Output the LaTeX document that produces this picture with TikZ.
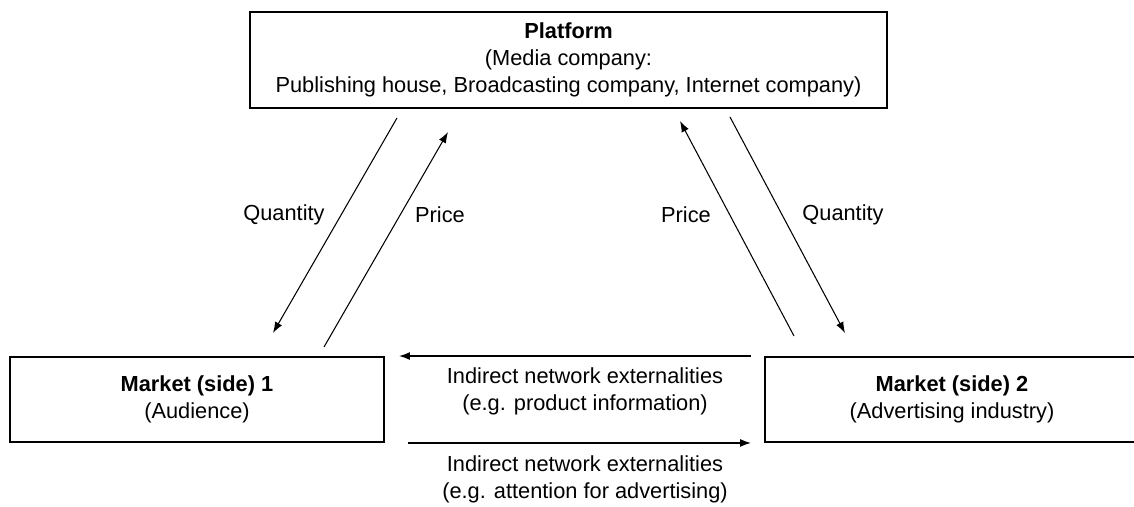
\documentclass[tikz,border=0pt]{standalone}
\usepackage{fontspec}
\setmainfont{Liberation Sans}
\usetikzlibrary{arrows.meta}

\tikzset{
  caja/.style={draw, line width=1.1pt, align=center, inner sep=0pt},
  flecha/.style={-{Latex[length=2.2mm,width=1.6mm]}, line width=0.6pt},
  etiq/.style={align=center}
}

\begin{document}
\begin{tikzpicture}[font=\fontsize{12.4}{15.4}\selectfont]
    \useasboundingbox (0,0) rectangle (22.68,-10.14);
    \clip (0,0) rectangle (22.68,-10.14);

    % Cajas: plataforma y los dos mercados
    \node[caja, minimum width=12.74cm, minimum height=1.92cm] (plat) at (11.37,-1.2)
      {\textbf{Platform}\\(Media company:\\Publishing house, Broadcasting company, Internet company)};
    \node[caja, minimum width=7.48cm, minimum height=1.7cm] (mer1) at (3.94,-7.99)
      {\textbf{Market (side) 1}\\(Audience)};
    \node[caja, minimum width=7.48cm, minimum height=1.7cm] (mer2) at (19.04,-7.99)
      {\textbf{Market (side) 2}\\(Advertising industry)};

    % Puntos de las flechas inclinadas
    \coordinate (q1a) at (7.94,-2.36);
    \coordinate (q1b) at (5.46,-6.66);
    \coordinate (p1a) at (6.48,-6.94);
    \coordinate (p1b) at (8.96,-2.64);
    \coordinate (p2a) at (15.88,-6.72);
    \coordinate (p2b) at (13.6,-2.42);
    \coordinate (q2a) at (14.6,-2.34);
    \coordinate (q2b) at (16.9,-6.66);

    % Flechas entre plataforma y mercados
    \draw[flecha] (q1a) -- (q1b);
    \draw[flecha] (p1a) -- (p1b);
    \draw[flecha] (p2a) -- (p2b);
    \draw[flecha] (q2a) -- (q2b);

    % Externalidades entre los mercados
    \draw[flecha, line width=0.8pt] ([xshift=-0.26cm]mer2.north west) -- ([xshift=0.28cm]mer1.north east);
    \draw[flecha, line width=0.8pt] ([xshift=0.46cm]mer1.south east) -- ([xshift=-0.26cm]mer2.south west);

    % Etiquetas
    \node (lq1) at (5.68,-4.3) {Quantity};
    \node (lp1) at (8.8,-4.3) {Price};
    \node (lp2) at (13.72,-4.3) {Price};
    \node (lq2) at (16.86,-4.3) {Quantity};
    \node[etiq] (ext1) at (11.7,-7.83) {Indirect network externalities\\(e.g. product information)};
    \node[etiq] (ext2) at (11.7,-9.59) {Indirect network externalities\\(e.g. attention for advertising)};
\end{tikzpicture}
\end{document}
